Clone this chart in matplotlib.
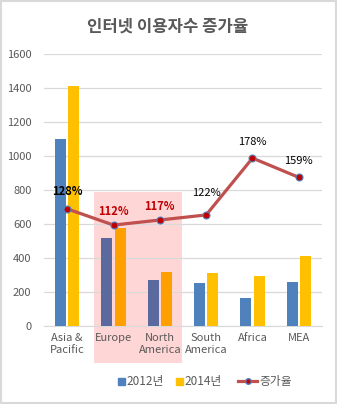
import matplotlib.pyplot as plt
from matplotlib.patches import Rectangle
from matplotlib.lines import Line2D
import numpy as np

plt.rcParams['font.family'] = ['Noto Sans CJK KR', 'DejaVu Sans']

regions = ['Asia &\nPacific', 'Europe', 'North\nAmerica', 'South\nAmerica', 'Africa', 'MEA']
users_2012 = [1100, 515, 272, 255, 167, 257]
users_2014 = [1410, 578, 319, 310, 297, 410]
growth = [1.28, 1.12, 1.17, 1.22, 1.78, 1.59]
growth_labels = ['128%', '112%', '117%', '122%', '178%', '159%']
highlight = [False, True, True, False, False, False]

# label placement tweaks (points above marker) and styles
label_dy = [8, 5, 5, 12, 8, 8]
label_bold = [True, True, True, False, False, False]

blue, gold = '#4F81BD', '#FFC000'
blue_hl, gold_hl = '#5A6A9E', '#FFA000'
grey_txt = '#595959'
line_c = '#C0504D'

fig = plt.figure(figsize=(3.37, 4.04), dpi=100)
fig.patch.set_facecolor('white')

# highlighted box behind Europe / North America
fig.patches.append(Rectangle((94 / 337, 1 - 363 / 404), 88 / 337, 171 / 404,
                             transform=fig.transFigure, facecolor='#FFD6D6',
                             edgecolor='none', zorder=-1))
fig.patches.append(Rectangle((0.0015, 0.0015), 0.997, 0.997, transform=fig.transFigure,
                             fill=False, edgecolor='#D9D9D9', lw=1.5, zorder=5))

ax = fig.add_axes([44 / 337, 78 / 404, 278 / 337, 272 / 404])
ax.set_facecolor('none')

x = np.arange(len(regions))
w = 0.24
c12 = [blue_hl if h else blue for h in highlight]
c14 = [gold_hl if h else gold for h in highlight]
ax.bar(x - 0.145, users_2012, w, color=c12, zorder=3)
ax.bar(x + 0.145, users_2014, w, color=c14, zorder=3)

ax.set_xlim(-0.5, 5.5)
ax.set_ylim(0, 1600)
ax.set_yticks(range(0, 1601, 200))
ax.grid(axis='y', color='#D9D9D9', lw=0.9, zorder=0)
for s in ['left', 'right', 'top']:
    ax.spines[s].set_visible(False)
ax.spines['bottom'].set_color('#D9D9D9')
ax.tick_params(length=0, labelsize=8, colors=grey_txt, pad=9)
ax.tick_params(axis='x', pad=5)
ax.set_xticks(x)
ax.set_xticklabels(regions, linespacing=1.2)

# growth line on hidden secondary axis
ax2 = ax.twinx()
ax2.set_ylim(75 / 597, 1675 / 597)
ax2.axis('off')
ax2.plot(x, growth, color=line_c, lw=2.3, marker='o', ms=5,
         markerfacecolor='#C00000', markeredgecolor='#4F81BD', mew=0.8, zorder=4)
for i, (g, t) in enumerate(zip(growth, growth_labels)):
    ax2.annotate(t, (x[i], g), xytext=(0, label_dy[i]), textcoords='offset points',
                 ha='center', va='bottom', fontsize=8,
                 color='#C00000' if highlight[i] else 'black',
                 fontweight='bold' if label_bold[i] else 'normal')

fig.text(168 / 337, 1 - 27 / 404, '인터넷 이용자수 증가율', ha='center', va='center',
         fontsize=12, color=grey_txt, fontweight='bold')

# legend: bar series and line series kept apart so the line handle can be longer
bar_handles = [Rectangle((0, 0), 1, 1, color=blue), Rectangle((0, 0), 1, 1, color=gold)]
fig.legend(bar_handles, ['2012년', '2014년'], loc='center',
           bbox_to_anchor=(170 / 337, 1 - 382 / 404), ncol=2, frameon=False,
           fontsize=8.5, labelcolor=grey_txt, handlelength=0.6, handleheight=0.6,
           handletextpad=0.15, columnspacing=1.0)
line_handle = Line2D([], [], color=line_c, lw=2.3, marker='o', ms=4,
                     markerfacecolor='#C00000', markeredgecolor='#4F81BD')
fig.legend([line_handle], ['증가율'], loc='center',
           bbox_to_anchor=(265 / 337, 1 - 382 / 404), frameon=False,
           fontsize=8.5, labelcolor=grey_txt, handlelength=1.6, handletextpad=0.2)

fig.savefig('out.png', dpi=100)
